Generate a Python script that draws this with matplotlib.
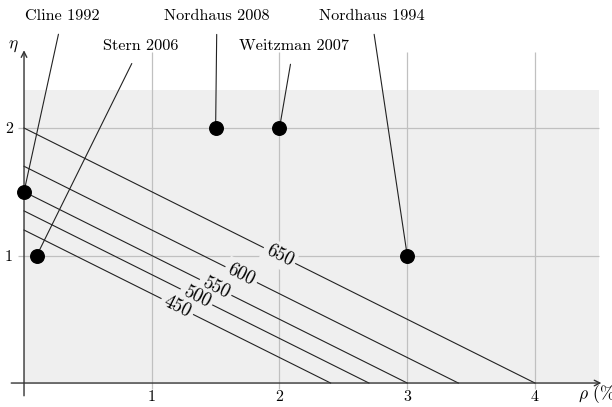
import numpy as np
import matplotlib
matplotlib.use("Agg")
import matplotlib.pyplot as plt

plt.rcParams['mathtext.fontset'] = 'cm'
plt.rcParams['font.family'] = 'cmr10'
plt.rcParams['axes.formatter.use_mathtext'] = True

# studies: (rho %, eta)
studies = ['Cline 1992', 'Stern 2006', 'Nordhaus 2008', 'Weitzman 2007', 'Nordhaus 1994']
rho = [0.0, 0.1, 1.5, 2.0, 3.0]
eta = [1.5, 1.0, 2.0, 2.0, 1.0]
label_xy = [(0.30, 2.875), (0.91, 2.64), (1.51, 2.875), (2.11, 2.64), (2.72, 2.875)]

# iso-lines eta = c - rho/2
levels = [450, 500, 550, 600, 650]
intercepts = [1.2, 1.35, 1.5, 1.7, 2.0]
slope = -0.5

xticks = [1, 2, 3, 4]
yticks = [1, 2]

gray = '#efefef'
gridc = '#c0c0c0'

fig = plt.figure(figsize=(6.12, 4.07), dpi=100)
ax = fig.add_axes([0, 0, 1, 1])
ax.set_xlim(-0.188, 4.603)
ax.set_ylim(-0.188, 3.004)
for s in ax.spines.values():
    s.set_visible(False)

ax.fill_between([0, 4.5], 0, 2.3, color=gray, lw=0, zorder=0)

# grid
ax.vlines(xticks, -0.05, 2.6, color=gridc, lw=0.9, zorder=1)
ax.hlines(yticks, -0.05, 4.5, color=gridc, lw=0.9, zorder=1)

# axes with arrows
ax.annotate('', xy=(4.52, 0), xytext=(-0.1, 0),
            arrowprops=dict(arrowstyle='->', color='#333333', lw=1, shrinkA=0, shrinkB=0), zorder=3)
ax.annotate('', xy=(0, 2.61), xytext=(0, -0.1),
            arrowprops=dict(arrowstyle='->', color='#333333', lw=1, shrinkA=0, shrinkB=0), zorder=3)

ax.set_xticks(xticks)
ax.set_yticks(yticks)
ax.set_xticklabels([str(t) for t in xticks])
ax.set_yticklabels([str(t) for t in yticks])
ax.spines['bottom'].set_position(('data', 0))
ax.spines['left'].set_position(('data', 0))
ax.tick_params(length=0, labelsize=11.5)
ax.tick_params(axis='x', pad=5)
ax.tick_params(axis='y', pad=8)

ax.text(-0.04, 2.64, r'$\eta$', ha='right', va='center', fontsize=12.5)
ax.text(4.34, -0.09, r'$\rho$ (%)', ha='left', va='center', fontsize=12.5)

# rotation of iso-line labels in screen space
p0 = ax.transData.transform((0, 0))
p1 = ax.transData.transform((1, slope))
ang = np.degrees(np.arctan2(p1[1] - p0[1], p1[0] - p0[0]))

for lev, c in zip(levels, intercepts):
    xs = np.array([0, -c / slope])
    ax.plot(xs, c + slope * xs, color='#222222', lw=0.8, zorder=2)
    # gap in the line behind the label
    ax.text(c, c / 2, str(lev), rotation=ang, rotation_mode='anchor',
            ha='center', va='center', fontsize=13.5, zorder=3, color=gray,
            bbox=dict(facecolor=gray, edgecolor='none', pad=2.5))
    ax.text(c, c / 2, str(lev), rotation=ang, rotation_mode='anchor',
            ha='center', va='center', fontsize=13.5, zorder=4)

ax.scatter(rho, eta, s=95, color='black', zorder=6)

for name, x, y, (tx, ty) in zip(studies, rho, eta, label_xy):
    ax.annotate(name, xy=(x, y), xytext=(tx, ty), ha='center', va='center', fontsize=11.7,
                arrowprops=dict(arrowstyle='-', color='#222222', lw=0.8, shrinkA=6, shrinkB=0),
                zorder=5)

fig.savefig('out.png', dpi=100)
